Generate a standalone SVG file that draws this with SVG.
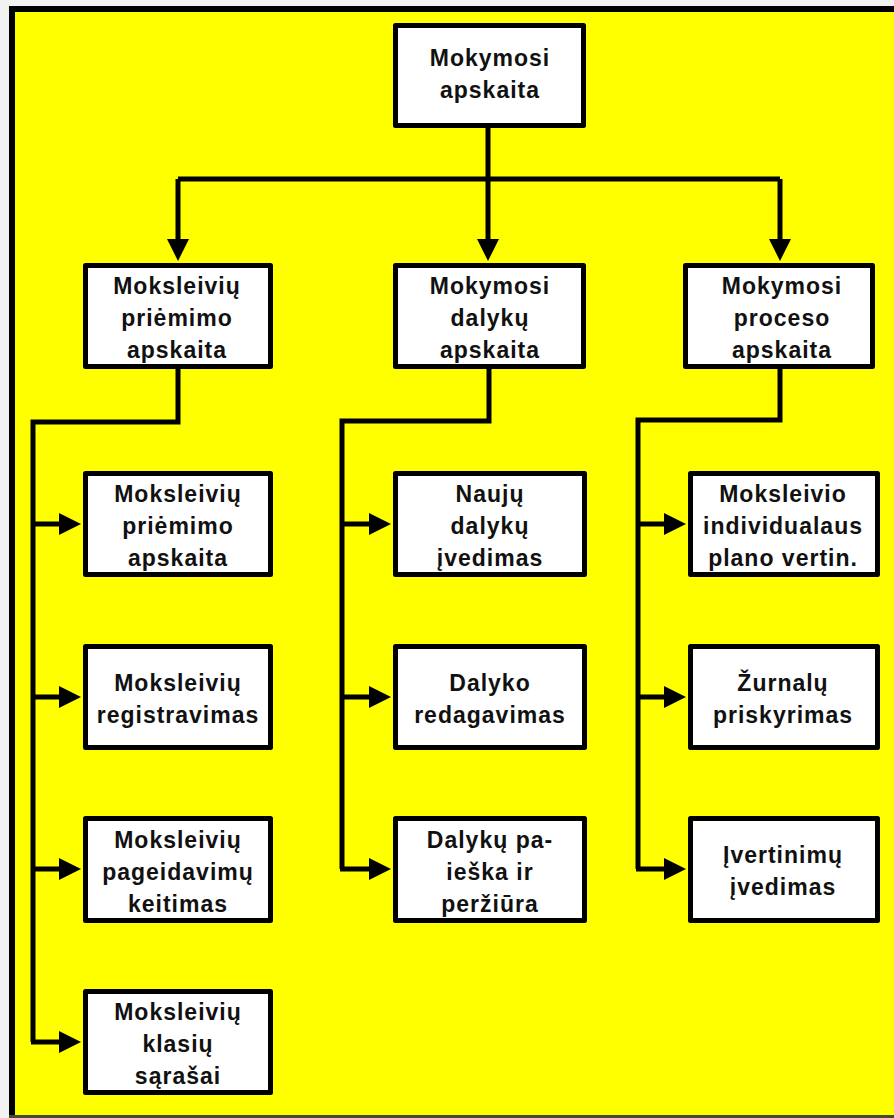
<svg xmlns="http://www.w3.org/2000/svg" width="894" height="1118" viewBox="0 0 894 1118">
  <style>
    .box { fill: #ffffff; stroke: #000000; stroke-width: 5; stroke-linejoin: round; }
    .lbl { font-family: "Liberation Sans", Arial, sans-serif; font-weight: bold; font-size: 23px; letter-spacing: 1px; fill: #111111; text-anchor: middle; }
    .wire { fill: none; stroke: #000000; stroke-width: 5; stroke-linejoin: miter; }
  </style>
  <defs>
    <marker id="head" markerUnits="userSpaceOnUse" markerWidth="22" markerHeight="22" refX="12" refY="11" orient="auto">
      <path d="M0,0 L22,11 L0,22 z" fill="#000000"/>
    </marker>
  </defs>

  <!-- page frame -->
  <rect x="0" y="0" width="894" height="1118" fill="#f2f2f2"/>
  <rect x="9" y="6" width="885" height="1111" fill="#ffff00"/>
  <rect x="9" y="6" width="885" height="6" fill="#000000"/>
  <rect x="9" y="6" width="6" height="1111" fill="#000000"/>
  <rect x="9" y="1115" width="885" height="3" fill="#4a4a2a"/>

  <!-- connectors -->
  <g id="connectors">
    <path class="wire" d="M488,128 V179"/>
    <path class="wire" d="M178,179 H780"/>
    <path class="wire" d="M178,179 V251" marker-end="url(#head)"/>
    <path class="wire" d="M488,179 V251" marker-end="url(#head)"/>
    <path class="wire" d="M780,179 V251" marker-end="url(#head)"/>

    <path class="wire" d="M178,369 V422 H33 V1042"/>
    <path class="wire" d="M33,524 H71" marker-end="url(#head)"/>
    <path class="wire" d="M33,697 H71" marker-end="url(#head)"/>
    <path class="wire" d="M33,869 H71" marker-end="url(#head)"/>
    <path class="wire" d="M31,1042 H71" marker-end="url(#head)"/>

    <path class="wire" d="M489,369 V421 H342 V869"/>
    <path class="wire" d="M342,524 H381" marker-end="url(#head)"/>
    <path class="wire" d="M342,697 H381" marker-end="url(#head)"/>
    <path class="wire" d="M340,869 H381" marker-end="url(#head)"/>

    <path class="wire" d="M780,369 V420 H638 V869"/>
    <path class="wire" d="M638,524 H676" marker-end="url(#head)"/>
    <path class="wire" d="M638,697 H676" marker-end="url(#head)"/>
    <path class="wire" d="M636,869 H676" marker-end="url(#head)"/>
  </g>

  <!-- root -->
  <g id="mokymosi-apskaita">
    <rect class="box" x="395.5" y="25.5" width="188" height="100"/>
    <text class="lbl" x="490" y="66">Mokymosi</text>
    <text class="lbl" x="490" y="98">apskaita</text>
  </g>

  <!-- second level -->
  <g id="moksleiviu-priemimo-apskaita">
    <rect class="box" x="85.5" y="265.5" width="185" height="101"/>
    <text class="lbl" x="177" y="294">Moksleivių</text>
    <text class="lbl" x="177" y="326">priėmimo</text>
    <text class="lbl" x="177" y="358">apskaita</text>
  </g>
  <g id="mokymosi-dalyku-apskaita">
    <rect class="box" x="395.5" y="265.5" width="188" height="101"/>
    <text class="lbl" x="490" y="294">Mokymosi</text>
    <text class="lbl" x="490" y="326">dalykų</text>
    <text class="lbl" x="490" y="358">apskaita</text>
  </g>
  <g id="mokymosi-proceso-apskaita">
    <rect class="box" x="685.5" y="265.5" width="187" height="101"/>
    <text class="lbl" x="782" y="294">Mokymosi</text>
    <text class="lbl" x="782" y="326">proceso</text>
    <text class="lbl" x="782" y="358">apskaita</text>
  </g>

  <!-- left column -->
  <g id="l1">
    <rect class="box" x="85.5" y="473.5" width="185" height="101"/>
    <text class="lbl" x="178" y="502">Moksleivių</text>
    <text class="lbl" x="178" y="534">priėmimo</text>
    <text class="lbl" x="178" y="566">apskaita</text>
  </g>
  <g id="l2">
    <rect class="box" x="85.5" y="646.5" width="185" height="101"/>
    <text class="lbl" x="178" y="691">Moksleivių</text>
    <text class="lbl" x="178" y="723">registravimas</text>
  </g>
  <g id="l3">
    <rect class="box" x="85.5" y="818.5" width="185" height="102"/>
    <text class="lbl" x="178" y="848">Moksleivių</text>
    <text class="lbl" x="178" y="880">pageidavimų</text>
    <text class="lbl" x="178" y="912">keitimas</text>
  </g>
  <g id="l4">
    <rect class="box" x="85.5" y="991.5" width="185" height="101"/>
    <text class="lbl" x="178" y="1020">Moksleivių</text>
    <text class="lbl" x="178" y="1052">klasių</text>
    <text class="lbl" x="178" y="1084">sąrašai</text>
  </g>

  <!-- middle column -->
  <g id="m1">
    <rect class="box" x="395.5" y="473.5" width="189" height="101"/>
    <text class="lbl" x="490" y="502">Naujų</text>
    <text class="lbl" x="490" y="534">dalykų</text>
    <text class="lbl" x="490" y="566">įvedimas</text>
  </g>
  <g id="m2">
    <rect class="box" x="395.5" y="646.5" width="189" height="101"/>
    <text class="lbl" x="490" y="691">Dalyko</text>
    <text class="lbl" x="490" y="723">redagavimas</text>
  </g>
  <g id="m3">
    <rect class="box" x="395.5" y="818.5" width="189" height="102"/>
    <text class="lbl" x="490" y="848">Dalykų pa-</text>
    <text class="lbl" x="490" y="880">ieška ir</text>
    <text class="lbl" x="490" y="912">peržiūra</text>
  </g>

  <!-- right column -->
  <g id="r1">
    <rect class="box" x="690.5" y="473.5" width="187" height="101"/>
    <text class="lbl" x="783" y="502">Moksleivio</text>
    <text class="lbl" x="783" y="534">individualaus</text>
    <text class="lbl" x="783" y="566">plano vertin.</text>
  </g>
  <g id="r2">
    <rect class="box" x="690.5" y="646.5" width="187" height="101"/>
    <text class="lbl" x="783" y="691">Žurnalų</text>
    <text class="lbl" x="783" y="723">priskyrimas</text>
  </g>
  <g id="r3">
    <rect class="box" x="690.5" y="818.5" width="187" height="102"/>
    <text class="lbl" x="783" y="863">Įvertinimų</text>
    <text class="lbl" x="783" y="895">įvedimas</text>
  </g>
</svg>
